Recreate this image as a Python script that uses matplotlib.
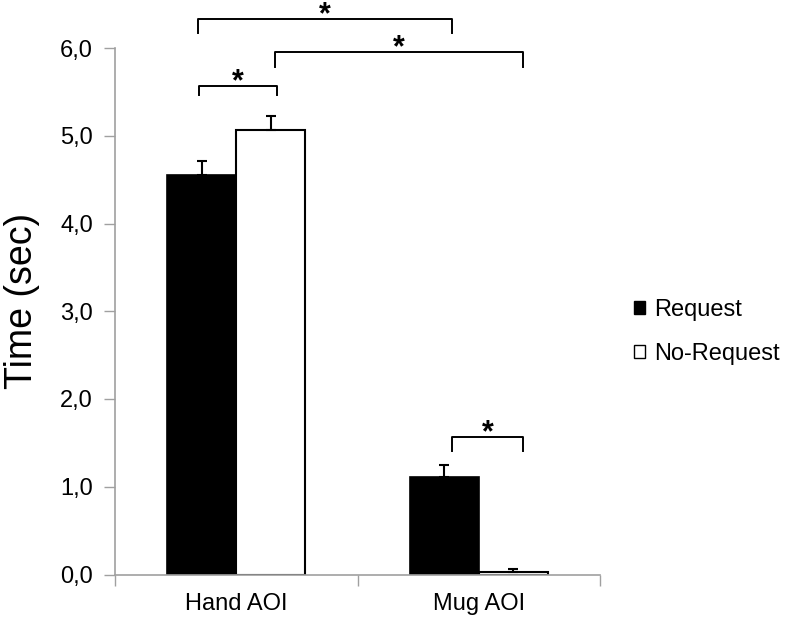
import matplotlib
matplotlib.use("Agg")
import matplotlib.pyplot as plt
import numpy as np
from matplotlib.patches import Patch

plt.rcParams['font.family'] = ['Liberation Sans', 'DejaVu Sans']

categories = ["Hand AOI", "Mug AOI"]
series = ["Request", "No-Request"]
request_vals = [4.55, 1.11]
request_err = [0.16, 0.14]
norequest_vals = [5.07, 0.03]
norequest_err = [0.16, 0.035]
yticks = [0, 1, 2, 3, 4, 5, 6]
ytick_labels = ["0,0", "1,0", "2,0", "3,0", "4,0", "5,0", "6,0"]

# significance brackets (x start, x end, top y, leg bottom y)
br_x0 = [-0.157, 0.160, -0.154, 0.891]
br_x1 = [0.891, 1.183, 0.168, 1.183]
br_top = [6.33, 5.955, 5.567, 1.567]
br_leg = [6.17, 5.78, 5.464, 1.407]
br_label = ["*", "*", "*", "*"]

fig = plt.figure(figsize=(7.88, 6.21), dpi=100)
ax = fig.add_axes([115/788, 1-574.5/621, 485/788, 526.5/621])

x = np.arange(len(categories))
w = 0.2845
ax.bar(x - w/2, request_vals, w, color='black', edgecolor='black', linewidth=1.2,
       label=series[0], zorder=2)
ax.bar(x + w/2, norequest_vals, w, color='white', edgecolor='black', linewidth=1.5,
       label=series[1], zorder=2)
ax.errorbar(x - w/2, request_vals, yerr=[np.zeros(2), request_err], fmt='none',
            ecolor='black', elinewidth=1.5, capsize=3.6, capthick=1.5, zorder=3)
ax.errorbar(x + w/2, norequest_vals, yerr=[np.zeros(2), norequest_err], fmt='none',
            ecolor='black', elinewidth=1.5, capsize=3.6, capthick=1.5, zorder=3)

ax.set_xlim(-0.5, 1.5)
ax.set_ylim(0, 6)
ax.set_yticks(yticks)
ax.set_yticklabels(ytick_labels, fontsize=17)
ax.set_xticks(x)
ax.set_xticklabels(categories, fontsize=17)
ax.set_xticks([-0.5, 0.5, 1.5], minor=True)
ax.tick_params(axis='x', which='major', length=0, pad=13)
ax.tick_params(axis='x', which='minor', length=8, color='#a0a0a0', width=1)
ax.tick_params(axis='y', length=8, color='#a0a0a0', width=1, pad=8)

for s in ['top', 'right']:
    ax.spines[s].set_visible(False)
for s in ['left', 'bottom']:
    ax.spines[s].set_color('#a0a0a0')
    ax.spines[s].set_linewidth(1.2)

ax.set_ylabel("Time (sec)", fontsize=27)
ax.yaxis.set_label_coords(-0.155, 0.52)

for x0, x1, top, leg, lab in zip(br_x0, br_x1, br_top, br_leg, br_label):
    ax.plot([x0, x0, x1, x1], [leg, top, top, leg], color='black', lw=1.4,
            clip_on=False, solid_joinstyle='round')
    ax.annotate(lab, xy=((x0 + x1)/2, top), xytext=(0, -3.2), textcoords='offset points',
                ha='center', va='baseline', fontsize=22, fontweight='bold',
                annotation_clip=False)

handles = [Patch(facecolor='black', edgecolor='black'),
           Patch(facecolor='white', edgecolor='black')]
fig.legend(handles, series, loc='center left', bbox_to_anchor=(634/788, 1-332/621),
           frameon=False, borderaxespad=0, borderpad=0, handlelength=0.45,
           handleheight=0.45, handletextpad=0.4, labelspacing=0.95, fontsize=17)

fig.savefig("out.png", dpi=100)
